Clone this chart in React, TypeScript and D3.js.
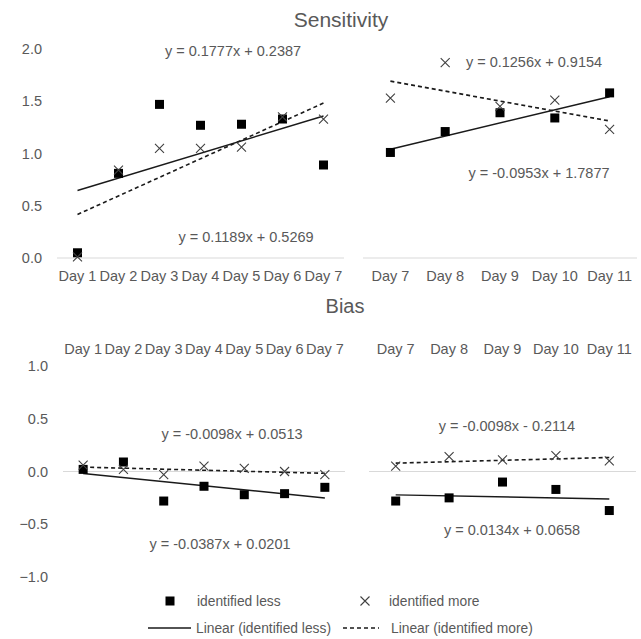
import React from 'react';
import * as d3 from 'd3';

const catsA = ['Day 1', 'Day 2', 'Day 3', 'Day 4', 'Day 5', 'Day 6', 'Day 7'];
const catsB = ['Day 7', 'Day 8', 'Day 9', 'Day 10', 'Day 11'];

const sensLessA = [0.05, 0.81, 1.47, 1.27, 1.28, 1.33, 0.89];
const sensMoreA = [0.01, 0.84, 1.05, 1.05, 1.06, 1.35, 1.33];
const sensLessB = [1.01, 1.21, 1.39, 1.34, 1.58];
const sensMoreB = [1.53, 1.87, 1.45, 1.51, 1.23];

const biasLessA = [0.02, 0.09, -0.28, -0.14, -0.22, -0.21, -0.15];
const biasMoreA = [0.06, 0.02, -0.03, 0.05, 0.03, 0.0, -0.03];
const biasLessB = [-0.28, -0.25, -0.1, -0.17, -0.37];
const biasMoreB = [0.05, 0.14, 0.11, 0.15, 0.1];

// trend coefficients [slope, intercept]
const sensTrendLessA = [0.1189, 0.5269];
const sensTrendMoreA = [0.1777, 0.2387];
const sensTrendLessB = [0.1256, 0.9154];
const sensTrendMoreB = [-0.0953, 1.7877];
const biasTrendLessA = [-0.0387, 0.0201];
const biasTrendMoreA = [-0.0098, 0.0513];
const biasTrendLessB = [-0.0098, -0.2114];
const biasTrendMoreB = [0.0134, 0.0658];

const sensTicks = [0, 0.5, 1.0, 1.5, 2.0];
const biasTicks = [-1.0, -0.5, 0, 0.5, 1.0];

const legendLabels = ['identified less', 'identified more', 'Linear (identified less)', 'Linear (identified more)'];

const FONT = '"Liberation Sans", Arial, sans-serif';
const TXT = '#595959';
const FS = 14.5;
const LFS = 13.8;

const eqText = (c: number[]) =>
  `y = ${c[0].toFixed(4)}x ${c[1] < 0 ? '-' : '+'} ${Math.abs(c[1]).toFixed(4)}`;

type PanelProps = {
  cats: string[];
  less: number[];
  more: number[];
  tLess: number[];
  tMore: number[];
  x0: number;
  x1: number;
  y: d3.ScaleLinear<number, number>;
  labelY: number;
  eqLessPos: [number, number];
  eqMorePos: [number, number];
};

const Square = ({ x, y }: { x: number; y: number }) => (
  <rect x={x - 4.5} y={y - 4.5} width={9} height={9} fill="#000" />
);
const Cross = ({ x, y }: { x: number; y: number }) => (
  <path d={`M${x - 4.5},${y - 4.5}L${x + 4.5},${y + 4.5}M${x - 4.5},${y + 4.5}L${x + 4.5},${y - 4.5}`} stroke="#404040" strokeWidth={1.1} fill="none" />
);

function Panel(p: PanelProps) {
  const x = d3.scalePoint<string>().domain(p.cats).range([p.x0, p.x1]).padding(0.5);
  const n = p.cats.length;
  const trend = (c: number[]) => {
    const pts: [number, number][] = [1, n].map((i) => [x(p.cats[i - 1])!, p.y(c[0] * i + c[1])]);
    return d3.line()(pts)!;
  };
  return (
    <g>
      <line x1={p.x0} x2={p.x1} y1={p.y(0)} y2={p.y(0)} stroke="#d9d9d9" strokeWidth={1} />
      {p.cats.map((c) => (
        <text key={c} x={x(c)} y={p.labelY} dy="0.35em" textAnchor="middle" fontSize={FS} fill={TXT} fontFamily={FONT}>
          {c}
        </text>
      ))}
      <path d={trend(p.tLess)} stroke="#1a1a1a" strokeWidth={1.4} fill="none" />
      <path d={trend(p.tMore)} stroke="#1a1a1a" strokeWidth={1.6} strokeDasharray="4,3" fill="none" />
      {p.less.map((v, i) => (
        <Square key={'l' + i} x={x(p.cats[i])!} y={p.y(v)} />
      ))}
      {p.more.map((v, i) => (
        <Cross key={'m' + i} x={x(p.cats[i])!} y={p.y(v)} />
      ))}
      <text x={p.eqLessPos[0]} y={p.eqLessPos[1]} dy="0.35em" textAnchor="middle" fontSize={FS} fill={TXT} fontFamily={FONT}>
        {eqText(p.tLess)}
      </text>
      <text x={p.eqMorePos[0]} y={p.eqMorePos[1]} dy="0.35em" textAnchor="middle" fontSize={FS} fill={TXT} fontFamily={FONT}>
        {eqText(p.tMore)}
      </text>
    </g>
  );
}

export default function App() {
  const ySens = d3.scaleLinear().domain([0, 2]).range([258, 49]);
  const yBias = d3.scaleLinear().domain([-1, 1]).range([577, 366]);
  return (
    <svg width={641} height={639} style={{ position: 'absolute', left: 0, top: 0, background: '#fff' }}>
      <rect width={641} height={639} fill="#fff" />
      <text x={341} y={20} dy="0.35em" textAnchor="middle" fontSize={21} fill={TXT} fontFamily={FONT}>Sensitivity</text>
      <text x={345} y={306} dy="0.35em" textAnchor="middle" fontSize={20} fill={TXT} fontFamily={FONT}>Bias</text>

      {sensTicks.map((t) => (
        <text key={'s' + t} x={42} y={ySens(t)} dy="0.35em" textAnchor="end" fontSize={FS} fill={TXT} fontFamily={FONT}>
          {d3.format('.1f')(t)}
        </text>
      ))}
      {biasTicks.map((t) => (
        <text key={'b' + t} x={48} y={yBias(t)} dy="0.35em" textAnchor="end" fontSize={FS} fill={TXT} fontFamily={FONT}>
          {d3.format('.1f')(t)}
        </text>
      ))}

      <Panel cats={catsA} less={sensLessA} more={sensMoreA} tLess={sensTrendLessA} tMore={sensTrendMoreA}
        x0={57} x1={344} y={ySens} labelY={276} eqLessPos={[246, 237]} eqMorePos={[233, 51]} />
      <Panel cats={catsB} less={sensLessB} more={sensMoreB} tLess={sensTrendLessB} tMore={sensTrendMoreB}
        x0={363} x1={637} y={ySens} labelY={276} eqLessPos={[534, 62]} eqMorePos={[539, 173]} />
      <Panel cats={catsA} less={biasLessA} more={biasMoreA} tLess={biasTrendLessA} tMore={biasTrendMoreA}
        x0={63} x1={345} y={yBias} labelY={349} eqLessPos={[220, 544]} eqMorePos={[232, 434]} />
      <Panel cats={catsB} less={biasLessB} more={biasMoreB} tLess={biasTrendLessB} tMore={biasTrendMoreB}
        x0={369} x1={636} y={yBias} labelY={349} eqLessPos={[507, 426]} eqMorePos={[512, 530]} />

      {/* legend */}
      <Square x={170} y={601} />
      <text x={197} y={601} dy="0.35em" fontSize={LFS} fill={TXT} fontFamily={FONT}>{legendLabels[0]}</text>
      <Cross x={365} y={601} />
      <text x={389} y={601} dy="0.35em" fontSize={LFS} fill={TXT} fontFamily={FONT}>{legendLabels[1]}</text>
      <line x1={148} x2={191} y1={628} y2={628} stroke="#1a1a1a" strokeWidth={1.4} />
      <text x={196} y={628} dy="0.35em" fontSize={LFS} fill={TXT} fontFamily={FONT}>{legendLabels[2]}</text>
      <line x1={343} x2={379} y1={628} y2={628} stroke="#1a1a1a" strokeWidth={1.6} strokeDasharray="4,3" />
      <text x={391} y={628} dy="0.35em" fontSize={LFS} fill={TXT} fontFamily={FONT}>{legendLabels[3]}</text>
    </svg>
  );
}
